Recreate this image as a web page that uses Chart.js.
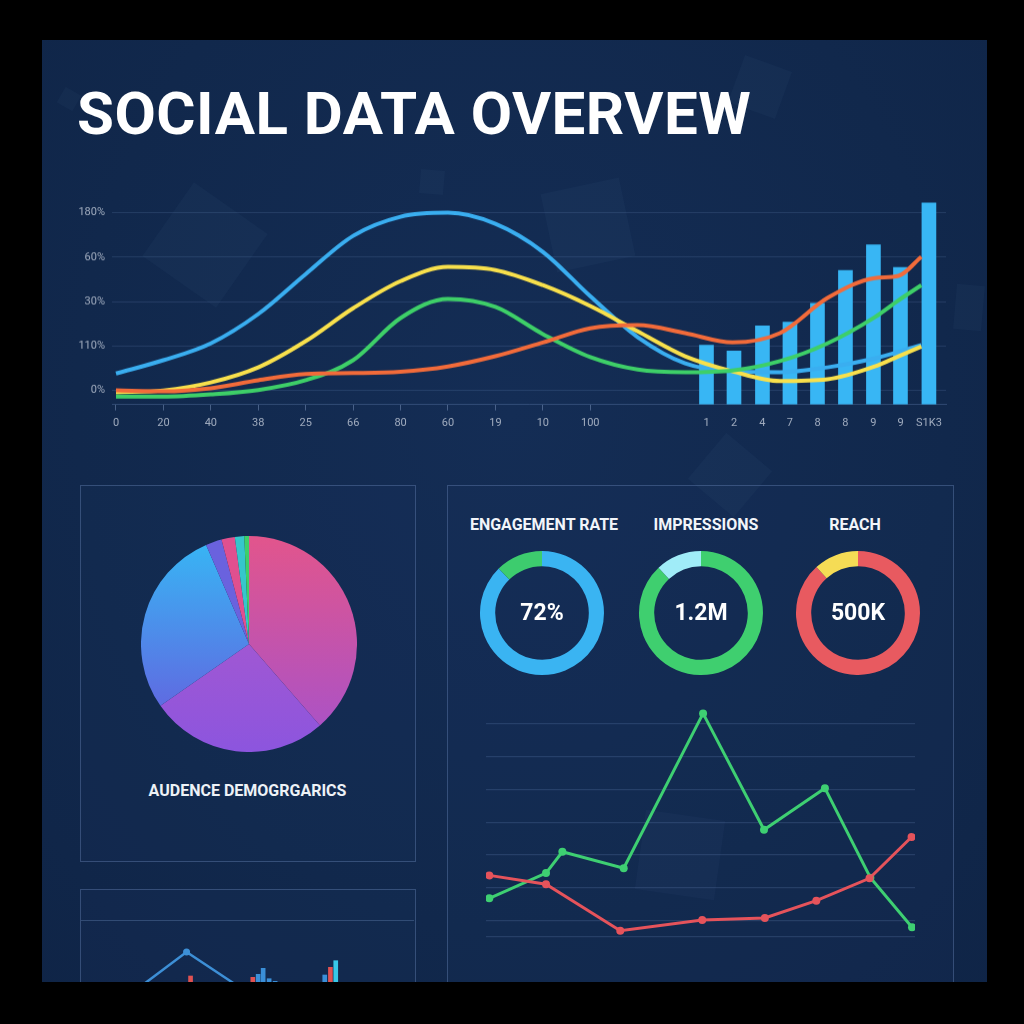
<!DOCTYPE html>
<html>
<head>
<meta charset="utf-8">
<script src="https://cdn.jsdelivr.net/npm/chart.js@4.4.1/dist/chart.umd.min.js"></script>
<style>
  html, body { margin: 0; padding: 0; background: #000; }
  body { width: 1024px; height: 1024px; position: relative; overflow: hidden; font-family: Roboto, "Open Sans", sans-serif; }
  #wrap { position: absolute; left: 0; top: 0; width: 1024px; height: 1024px;
          clip-path: inset(40px 37px 42px 42px);
          background: radial-gradient(ellipse at 50% 40%, #142d55 0%, #11284c 60%, #0f2446 100%); }
  .abs { position: absolute; }
  .deco { position: absolute; background: rgba(120,160,220,0.045); }
  .box { position: absolute; border: 1px solid rgba(110,140,190,0.38); background: rgba(30,60,105,0.12); box-sizing: border-box; }
  #title { left: 77px; top: 74px; font-size: 60px; font-weight: 700; color: #fff; letter-spacing: 0.5px; white-space: nowrap; line-height: 80px; }
  .kpi { position: absolute; width: 200px; text-align: center; color: #f2f5fa; font-weight: 700; font-size: 16px; line-height: 20px; top: 515px; }
  #pieLabel { left: 80px; width: 335px; top: 781px; text-align: center; color: #eef2f7; font-weight: 700; font-size: 16px; line-height: 20px; }
</style>
</head>
<body>
<div id="wrap">
  <div class="deco" style="left:420px;top:170px;width:24px;height:24px;transform:rotate(5deg);"></div>
  <div class="deco" style="left:548px;top:185px;width:80px;height:80px;transform:rotate(-12deg);"></div>
  <div class="deco" style="left:160px;top:200px;width:90px;height:90px;transform:rotate(35deg);"></div>
  <div class="deco" style="left:735px;top:62px;width:50px;height:50px;transform:rotate(20deg);"></div>
  <div class="deco" style="left:955px;top:285px;width:28px;height:45px;transform:rotate(5deg);"></div>
  <div class="deco" style="left:640px;top:815px;width:80px;height:80px;transform:rotate(8deg);"></div>
  <div class="deco" style="left:700px;top:445px;width:60px;height:60px;transform:rotate(40deg);"></div>
  <div class="deco" style="left:60px;top:90px;width:18px;height:18px;transform:rotate(30deg);"></div>

  <div id="title" class="abs">SOCIAL DATA OVERVEW</div>

  <div class="abs" style="left:60px;top:186.4px;width:900px;height:257.6px;"><canvas id="topChart"></canvas></div>

  <div class="box" style="left:80px;top:485px;width:336px;height:377px;"></div>
  <div class="abs" style="left:141px;top:536px;width:216px;height:216px;"><canvas id="pieChart"></canvas></div>
  <div id="pieLabel" class="abs">AUDENCE DEMOGRGARICS</div>

  <div class="box" style="left:80px;top:889px;width:336px;height:200px;"></div>
  <div class="abs" style="left:81px;top:880px;width:333px;height:120px;"><canvas id="miniChart"></canvas></div>

  <div class="box" style="left:447px;top:485px;width:507px;height:600px;"></div>
  <div class="kpi" id="kpi0" style="left:444px;"></div>
  <div class="kpi" id="kpi1" style="left:606px;"></div>
  <div class="kpi" id="kpi2" style="left:755px;"></div>
  <div class="abs" style="left:480px;top:551px;width:124px;height:124px;"><canvas id="d0"></canvas></div>
  <div class="abs" style="left:639px;top:551px;width:124px;height:124px;"><canvas id="d1"></canvas></div>
  <div class="abs" style="left:796px;top:551px;width:124px;height:124px;"><canvas id="d2"></canvas></div>

  <div class="abs" style="left:470px;top:695px;width:470px;height:260px;"><canvas id="lineChart"></canvas></div>
</div>

<script>
// ---------------- DATA ----------------
// Top combo chart
const xTickPos    = [0,1,2,3,4,5,6,7,8,9,10, 12.45,13.03,13.63,14.21,14.79,15.38,15.97,16.54,17.14];
const xTickLabels = ['0','20','40','38','25','66','80','60','19','10','100','1','2','4','7','8','8','9','9','S1K3'];
const yTickLabels = ['0%','110%','30%','60%','180%'];
const curveX      = [0,1,2,3,4,5,6,7,8,9,10,11,12,13,14,15,16,16.5,16.98];
const blueCurve   = [0.38,0.68,1.06,1.72,2.62,3.48,3.91,4.0,3.75,3.12,2.12,1.20,0.61,0.43,0.41,0.52,0.72,0.87,1.02];
const yellowCurve = [-0.04,0,0.18,0.52,1.11,1.85,2.46,2.78,2.71,2.37,1.90,1.33,0.77,0.43,0.21,0.25,0.54,0.77,0.99];
const greenCurve  = [-0.14,-0.14,-0.09,0.01,0.23,0.68,1.63,2.06,1.88,1.27,0.75,0.47,0.41,0.45,0.66,1.06,1.65,2.03,2.37];
const orangeCurve = [0,-0.02,0.05,0.23,0.37,0.39,0.42,0.54,0.77,1.08,1.40,1.47,1.29,1.08,1.29,2.08,2.53,2.58,3.01];
const barX        = [12.45,13.03,13.63,14.21,14.79,15.38,15.97,16.54,17.14];
const barValues   = [1.02,0.89,1.45,1.54,1.96,2.70,3.28,2.77,4.22];

// Audience demographics pie
const pieLabels = ['Group 1','Group 2','Group 3','Group 4','Group 5','Group 6','Group 7'];
const pieValues = [38.6,26.7,28.2,2.4,2.0,1.4,0.7];

// KPI donuts
const kpiTitles = ['ENGAGEMENT RATE','IMPRESSIONS','REACH'];
const kpiTexts  = ['72%','1.2M','500K'];
const kpiRings  = [[87.7,12.3],[88,12],[88.3,11.7]];

// Right line chart
const greenX   = [0.77,13.99,17.8,32.1,50.6,64.8,79.0,89.6,99.3];
const greenY   = [6.8,14.5,21,16,63.2,27.7,40.4,13.1,-2];
const redX     = [0.77,13.99,31.3,50.4,65.0,77.0,89.4,99.2];
const redY     = [13.8,11.1,-3.1,0.2,0.8,6.1,12.9,25.5];

// Bottom-left mini chart (mostly cut off)
const miniLineX = [16.5,31.7,48.9];
const miniLineY = [0,38,0];
const miniRedX  = [32.9,51.6,74.9];
const miniRedY  = [14,12.7,22.7];
const miniBlueX = [53.2,54.7,56.5,58.3,73.2];
const miniBlueY = [15.7,21.7,11.3,8.7,15];
const miniCyanX = [76.5];
const miniCyanY = [29.3];

// ---------------- STYLE ----------------
const GRID = 'rgba(110,140,190,0.22)';
const TICK = '#a3aec0';
Chart.defaults.font.family = 'Roboto, "Open Sans", sans-serif';
Chart.defaults.animation = false;
Chart.defaults.plugins.legend.display = false;
Chart.defaults.plugins.tooltip.enabled = false;
Chart.defaults.maintainAspectRatio = false;
Chart.defaults.responsive = true;

const pts = (xs, ys) => xs.map((x, i) => ({x, y: ys[i]}));

// ---------------- TOP CHART ----------------
const Y_MIN = -0.316, Y_MAX = 4.294;
const curveDs = (data, color) => ({
  type: 'line', data: pts(curveX, data), borderColor: color, borderWidth: 4,
  pointRadius: 0, cubicInterpolationMode: 'monotone', fill: false, order: 0, clip: false
});
new Chart(document.getElementById('topChart'), {
  type: 'bar',
  data: {
    datasets: [
      curveDs(orangeCurve, '#f26b3a'),
      curveDs(greenCurve, '#3ecf68'),
      curveDs(yellowCurve, '#f8e04c'),
      curveDs(blueCurve, '#3aaef0'),
      { type: 'bar', data: pts(barX, barValues), backgroundColor: '#38b6f4',
        barThickness: 14, base: Y_MIN, grouped: false, order: 1 }
    ]
  },
  options: {
    layout: { padding: { top: 0, right: 14, left: 0, bottom: 0 } },
    scales: {
      x: {
        type: 'linear', min: -0.084, max: 17.5, offset: false,
        afterBuildTicks: s => { s.ticks = xTickPos.map(v => ({value: v})); },
        afterFit: s => { s.height = 40; },
        ticks: { autoSkip: false, maxRotation: 0, padding: 6, color: TICK, font: { size: 11 },
                 callback: (v, i) => xTickLabels[i] },
        grid: { offset: false, drawOnChartArea: false, drawTicks: true, tickLength: 6,
                tickColor: c => (c.index < 11 ? 'rgba(140,165,205,0.45)' : 'rgba(0,0,0,0)') },
        border: { display: true, color: 'rgba(110,140,190,0.35)', width: 1 }
      },
      y: {
        type: 'linear', min: Y_MIN, max: Y_MAX,
        afterBuildTicks: s => { s.ticks = yTickLabels.map((_, i) => ({value: i})); },
        afterFit: s => { s.width = 52; },
        ticks: { padding: 7, color: TICK, font: { size: 11 }, callback: (v, i) => yTickLabels[i] },
        grid: { color: GRID, drawTicks: false },
        border: { display: false }
      }
    }
  }
});

// ---------------- PIE ----------------
function vGrad(chart, top, bottom) {
  const a = chart.chartArea;
  if (!a) return top;
  const g = chart.ctx.createLinearGradient(0, a.top, 0, a.bottom);
  g.addColorStop(0, top); g.addColorStop(1, bottom);
  return g;
}
const pieTop    = ['#e2558c','#b45ac8','#36b8f5','#6a62de','#e0508f','#36c6cc','#3ecf6a'];
const pieBottom = ['#a552cc','#8c55de','#6a56dc','#6a62de','#e0508f','#36c6cc','#3ecf6a'];
new Chart(document.getElementById('pieChart'), {
  type: 'pie',
  data: { labels: pieLabels, datasets: [{
    data: pieValues, borderWidth: 0,
    backgroundColor: c => vGrad(c.chart, pieTop[c.dataIndex], pieBottom[c.dataIndex])
  }]},
  options: { layout: { padding: 0 } }
});

// ---------------- DONUTS ----------------
const ringColors = [['#3ab4f2','#3dcc6e'],['#3fcf6f','#a0ecf8'],['#e85a60','#f5dc55']];
const centerText = {
  id: 'centerText',
  afterDraw(chart, args, opts) {
    const a = chart.chartArea, ctx = chart.ctx;
    ctx.save();
    ctx.font = '700 23px Roboto, sans-serif';
    ctx.fillStyle = '#ffffff';
    ctx.textAlign = 'center'; ctx.textBaseline = 'middle';
    ctx.fillText(opts.text, (a.left + a.right) / 2, (a.top + a.bottom) / 2 + 1);
    ctx.restore();
  }
};
kpiTitles.forEach((t, i) => {
  document.getElementById('kpi' + i).textContent = t;
  new Chart(document.getElementById('d' + i), {
    type: 'doughnut',
    data: { labels: ['value','rest'], datasets: [{ data: kpiRings[i], backgroundColor: ringColors[i], borderWidth: 0 }] },
    options: { cutout: '75.5%', plugins: { centerText: { text: kpiTexts[i] } } },
    plugins: [centerText]
  });
});

// ---------------- RIGHT LINE CHART ----------------
const LMIN = -4.9;
new Chart(document.getElementById('lineChart'), {
  type: 'line',
  data: { datasets: [
    { data: pts(redX, redY), borderColor: '#e5535b', backgroundColor: '#e5535b', borderWidth: 3,
      pointRadius: 4, pointBorderWidth: 0, tension: 0 },
    { data: pts(greenX, greenY), borderColor: '#3ecf72', backgroundColor: '#3ecf72', borderWidth: 3,
      pointRadius: 4, pointBorderWidth: 0, tension: 0 }
  ]},
  options: {
    layout: { padding: { left: 16, right: 25, top: 12.5, bottom: 18.3 } },
    scales: {
      x: { type: 'linear', min: 0, max: 100, display: false },
      y: { min: LMIN, max: 65,
           afterBuildTicks: s => { s.ticks = [LMIN,0,10,20,30,40,50,60].map(v => ({value: v})); },
           afterFit: s => { s.width = 0; },
           ticks: { display: false },
           grid: { color: GRID, drawTicks: false, lineWidth: 1.2 },
           border: { display: false } }
    }
  }
});

// ---------------- MINI CHART ----------------
new Chart(document.getElementById('miniChart'), {
  type: 'bar',
  data: { datasets: [
    { type: 'line', data: pts(miniLineX, miniLineY), borderColor: '#3d8fd6', backgroundColor: '#3d8fd6',
      borderWidth: 2.5, pointRadius: [0,3.5,0], pointBorderWidth: 0, tension: 0, order: 0 },
    { data: pts(miniRedX, miniRedY), backgroundColor: '#e05252', barThickness: 4, grouped: false, order: 1 },
    { data: pts(miniBlueX, miniBlueY), backgroundColor: '#3a8fd8', barThickness: 4, grouped: false, order: 1 },
    { data: pts(miniCyanX, miniCyanY), backgroundColor: '#38c8e8', barThickness: 4, grouped: false, order: 1 }
  ]},
  options: {
    layout: { padding: { left: 0, right: 0, top: 10, bottom: 10 } },
    scales: {
      x: { type: 'linear', min: 0, max: 100, display: false, offset: false },
      y: { min: 0, max: 100,
           afterBuildTicks: s => { s.ticks = [{value: 70}]; },
           afterFit: s => { s.width = 0; },
           ticks: { display: false },
           grid: { color: 'rgba(110,140,190,0.35)', drawTicks: false },
           border: { display: false } }
    }
  }
});
</script>
</body>
</html>
